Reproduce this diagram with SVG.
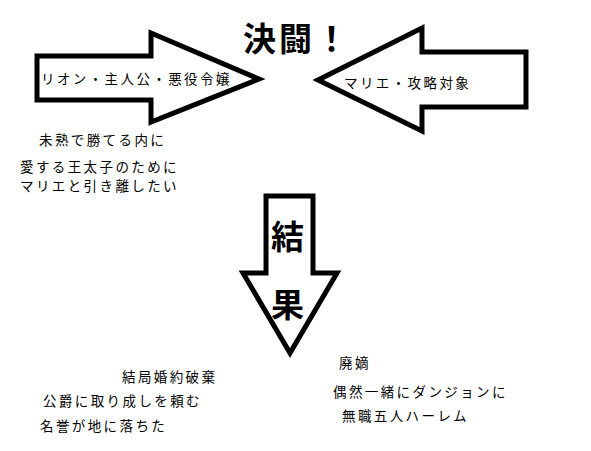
<svg xmlns="http://www.w3.org/2000/svg" width="591" height="451" viewBox="0 0 591 451">
<style>
.arrow{fill:#fff;stroke:#000;stroke-width:5;stroke-linejoin:miter}
.t{font-family:"Noto Sans CJK JP","Noto Sans CJK SC",sans-serif;font-size:13.5px;letter-spacing:2.4px;fill:#000}
.big{font-family:"Noto Sans CJK JP","Noto Sans CJK SC",sans-serif;font-size:33px;font-weight:bold;fill:#000}
</style>
<rect width="591" height="451" fill="#fff"/>
<g id="connectors">
<polygon id="arrow-left" class="arrow" points="37,56 151,56 151,33 259,79 151,122 151,100 37,100"/>
<polygon id="arrow-right" class="arrow" points="526,52 422,52 422,28 318,80 422,131 422,107 526,107"/>
<polygon id="arrow-down" class="arrow" points="266,196 313,196 313,273 337,273 290,353 243,273 266,273"/>
</g>
<g id="title"><text class="big" x="243" y="51" letter-spacing="3">決闘！</text></g>
<g id="node-rion">
<text class="t" x="41" y="84">リオン・主人公・悪役令嬢</text>
<text class="t" x="39" y="145">未熟で勝てる内に</text>
<text class="t" x="20" y="172">愛する王太子のために</text>
<text class="t" x="20" y="191">マリエと引き離したい</text>
</g>
<g id="node-marie"><text class="t" x="344" y="88">マリエ・攻略対象</text></g>
<g id="result">
<text class="big" x="271" y="249">結</text>
<text class="big" x="271" y="317">果</text>
</g>
<g id="node-result-left">
<text class="t" x="122" y="382">結局婚約破棄</text>
<text class="t" x="43" y="406">公爵に取り成しを頼む</text>
<text class="t" x="40" y="431">名誉が地に落ちた</text>
</g>
<g id="node-result-right">
<text class="t" x="339" y="368">廃嫡</text>
<text class="t" x="333" y="397">偶然一緒にダンジョンに</text>
<text class="t" x="342" y="421">無職五人ハーレム</text>
</g>
</svg>
